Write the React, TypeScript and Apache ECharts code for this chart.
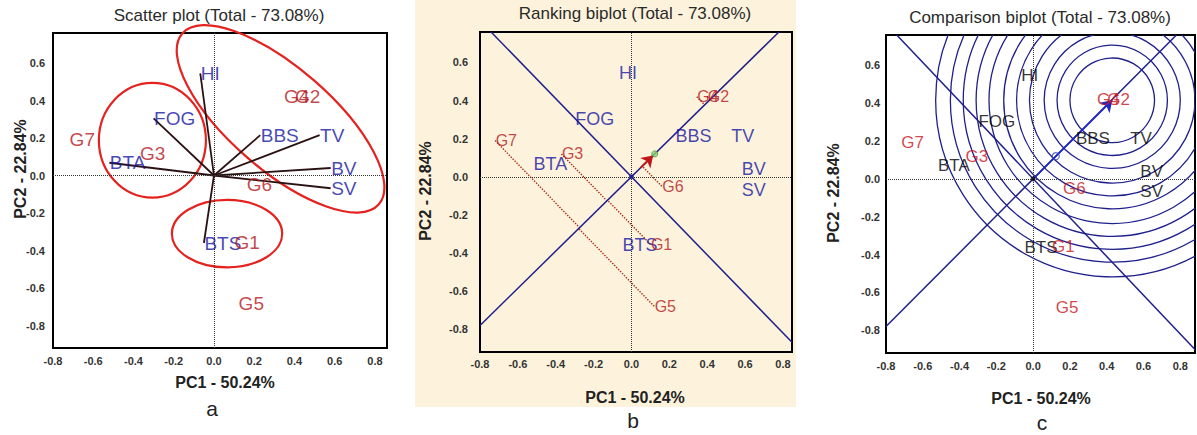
import { useEffect, useRef } from "react";
import * as echarts from "echarts";

// ---------- data ----------
const xTickValues = [-0.8, -0.6, -0.4, -0.2, 0, 0.2, 0.4, 0.6, 0.8];
const yTickValues = [-0.8, -0.6, -0.4, -0.2, 0, 0.2, 0.4, 0.6];

const traitNames = ["HI", "FOG", "BTA", "BBS", "TV", "BV", "SV", "BTS"];
const traitPC1 = [-0.068, -0.3, -0.52, 0.23, 0.525, 0.58, 0.58, -0.05];
const traitPC2 = [0.545, 0.305, 0.068, 0.215, 0.215, 0.04, -0.068, -0.36];

const genotypeNames = ["G1", "G2", "G3", "G4", "G5", "G6", "G7"];
const genotypePC1 = [0.1, 0.4, -0.37, 0.345, 0.12, 0.16, -0.72];
const genotypePC2 = [-0.355, 0.42, 0.12, 0.42, -0.68, -0.05, 0.19];

// average environment (mean trait) point and ideal genotype
const aeaPoint = [0.123, 0.12];
const idealPoint = [0.43, 0.415];
const comparisonRadii = [0.23, 0.3, 0.37, 0.45, 0.52, 0.59, 0.67, 0.74, 0.81, 0.88, 0.96];

// cluster ellipses on the scatter plot
const clusterCx = [0.331, -0.306, 0.065];
const clusterCy = [0.302, 0.188, -0.31];
const clusterRx = [0.647, 0.266, 0.274];
const clusterRy = [0.272, 0.306, 0.18];
const clusterAngle = [-41, 0, 0];

// ---------- style ----------
const FONT = "Liberation Sans, Arial, Helvetica, sans-serif";
const BLUE = "#1616a2";
const RED = "#b3171c";
const NAVY = "#20208c";
const Y_MIN = -0.92;
const Y_MAX = 0.76;
const X_MAX = [0.86, 0.848, 0.88];

function lineThroughOrigin(dx: number, dy: number, xMin: number, xMax: number) {
  const tx = [xMin / dx, xMax / dx].sort((a, b) => a - b);
  const ty = [Y_MIN / dy, Y_MAX / dy].sort((a, b) => a - b);
  const t0 = Math.max(tx[0], ty[0]);
  const t1 = Math.min(tx[1], ty[1]);
  return [
    [t0 * dx, t0 * dy],
    [t1 * dx, t1 * dy],
  ];
}

function labelSeries(idx: number, names: string[], xs: number[], ys: number[], color: string, fontSize: number, extra: any = {}) {
  return {
    type: "scatter",
    xAxisIndex: idx,
    yAxisIndex: idx,
    silent: true,
    symbolSize: 1,
    itemStyle: { color: "rgba(0,0,0,0)" },
    data: names.map((n, i) => ({ name: n, value: [xs[i], ys[i]] })),
    label: {
      show: true,
      position: "right",
      distance: 0,
      formatter: "{b}",
      color,
      fontSize,
      fontFamily: FONT,
    },
    z: 6,
    ...extra,
  };
}

const zeroMark = {
  silent: true,
  symbol: ["none", "none"],
  label: { show: false },
  lineStyle: { type: "dotted", color: "#333", width: 1 },
  data: [{ xAxis: 0 }, { yAxis: 0 }],
};

function buildOption() {
  const grids = [
    { left: 53, top: 33, width: 334, height: 315, bg: "#ffffff" },
    { left: 480, top: 32, width: 312, height: 320, bg: "rgba(0,0,0,0)" },
    { left: 886, top: 35, width: 309, height: 318, bg: "#ffffff" },
  ];
  const labelMargins = [8, 12, 6];
  const xLabelMargins = [7, 6, 7];

  const grid = grids.map((g) => ({
    left: g.left,
    top: g.top,
    width: g.width,
    height: g.height,
    show: true,
    backgroundColor: g.bg,
    borderColor: "#000",
    borderWidth: 2,
  }));

  const xAxis = grids.map((_, i) => ({
    gridIndex: i,
    type: "value",
    min: -0.8,
    max: X_MAX[i],
    axisLine: { show: false },
    axisTick: { show: false },
    splitLine: { show: false },
    axisLabel: {
      customValues: xTickValues,
      formatter: (v: number) => v.toFixed(1),
      fontSize: 11,
      fontWeight: "bold",
      color: "#333",
      fontFamily: FONT,
      margin: xLabelMargins[i],
    },
  }));

  const yAxis = grids.map((_, i) => ({
    gridIndex: i,
    type: "value",
    min: Y_MIN,
    max: Y_MAX,
    axisLine: { show: false },
    axisTick: { show: false },
    splitLine: { show: false },
    axisLabel: {
      customValues: yTickValues,
      formatter: (v: number) => v.toFixed(1),
      fontSize: 11,
      fontWeight: "bold",
      color: "#333",
      fontFamily: FONT,
      margin: labelMargins[i],
    },
  }));

  const series: any[] = [];

  // ---- panel a ----
  series.push({
    type: "custom",
    xAxisIndex: 0,
    yAxisIndex: 0,
    silent: true,
    z: 3,
    data: clusterCx.map((c, i) => [c, clusterCy[i], clusterRx[i], clusterRy[i], clusterAngle[i]]),
    renderItem: (_p: any, api: any) => {
      const c = api.coord([api.value(0), api.value(1)]);
      const s = api.size([api.value(2), api.value(3)]);
      return {
        type: "ellipse",
        x: c[0],
        y: c[1],
        rotation: (api.value(4) * Math.PI) / 180,
        shape: { cx: 0, cy: 0, rx: s[0], ry: s[1] },
        style: { fill: "none", stroke: "#e4221f", lineWidth: 2.2 },
      };
    },
  });
  series.push({
    type: "lines",
    coordinateSystem: "cartesian2d",
    xAxisIndex: 0,
    yAxisIndex: 0,
    silent: true,
    z: 4,
    lineStyle: { color: "#2b1212", width: 1.8, opacity: 1 },
    data: traitNames.map((_, i) => ({ coords: [[0, 0], [traitPC1[i], traitPC2[i]]] })),
  });
  series.push(labelSeries(0, traitNames, traitPC1, traitPC2, BLUE, 19, { markLine: zeroMark }));
  series.push(labelSeries(0, genotypeNames, genotypePC1, genotypePC2, RED, 19));

  // ---- panel b: ranking ----
  const ux = aeaPoint[0] / Math.hypot(aeaPoint[0], aeaPoint[1]);
  const uy = aeaPoint[1] / Math.hypot(aeaPoint[0], aeaPoint[1]);
  series.push({
    type: "lines",
    coordinateSystem: "cartesian2d",
    xAxisIndex: 1,
    yAxisIndex: 1,
    silent: true,
    z: 3,
    lineStyle: { color: "#a82a1a", width: 1.4, type: "dotted", opacity: 1 },
    data: genotypeNames.map((_, i) => {
      const d = genotypePC1[i] * ux + genotypePC2[i] * uy;
      return { coords: [[genotypePC1[i], genotypePC2[i]], [d * ux, d * uy]] };
    }),
  });
  [lineThroughOrigin(aeaPoint[0], aeaPoint[1], -0.8, X_MAX[1]), lineThroughOrigin(-aeaPoint[1], aeaPoint[0], -0.8, X_MAX[1])].forEach((seg) => {
    series.push({
      type: "line",
      xAxisIndex: 1,
      yAxisIndex: 1,
      silent: true,
      z: 4,
      showSymbol: false,
      symbol: "none",
      lineStyle: { color: NAVY, width: 1.5 },
      data: seg,
    });
  });
  series.push({
    type: "lines",
    coordinateSystem: "cartesian2d",
    xAxisIndex: 1,
    yAxisIndex: 1,
    silent: true,
    z: 5,
    symbol: ["none", "arrow"],
    symbolSize: 11,
    lineStyle: { color: "#c0161b", width: 2, opacity: 1 },
    data: [{ coords: [[aeaPoint[0] * 0.4, aeaPoint[1] * 0.4], [aeaPoint[0] * 0.93, aeaPoint[1] * 0.93]] }],
  });
  series.push({
    type: "scatter",
    xAxisIndex: 1,
    yAxisIndex: 1,
    silent: true,
    z: 5,
    data: [{ value: aeaPoint, symbolSize: 6, itemStyle: { color: "#8fd27a", borderColor: "#4a9a3a", borderWidth: 1 } }, { value: [0, 0], symbolSize: 5, itemStyle: { color: NAVY } }],
  });
  series.push(labelSeries(1, traitNames, traitPC1, traitPC2, BLUE, 18, { markLine: zeroMark }));
  series.push(labelSeries(1, genotypeNames, genotypePC1, genotypePC2, RED, 16));

  // ---- panel c: comparison ----
  series.push({
    type: "custom",
    xAxisIndex: 2,
    yAxisIndex: 2,
    silent: true,
    clip: true,
    z: 3,
    data: comparisonRadii.map((r) => [idealPoint[0], idealPoint[1], r]),
    renderItem: (_p: any, api: any) => {
      const c = api.coord([api.value(0), api.value(1)]);
      const r = api.size([api.value(2), 0])[0];
      return {
        type: "circle",
        shape: { cx: c[0], cy: c[1], r },
        style: { fill: "none", stroke: NAVY, lineWidth: 1.3 },
      };
    },
  });
  [lineThroughOrigin(aeaPoint[0], aeaPoint[1], -0.8, X_MAX[2]), lineThroughOrigin(-aeaPoint[1], aeaPoint[0], -0.8, X_MAX[2])].forEach((seg) => {
    series.push({
      type: "line",
      xAxisIndex: 2,
      yAxisIndex: 2,
      silent: true,
      z: 4,
      showSymbol: false,
      symbol: "none",
      lineStyle: { color: NAVY, width: 1.5 },
      data: seg,
    });
  });
  series.push({
    type: "lines",
    coordinateSystem: "cartesian2d",
    xAxisIndex: 2,
    yAxisIndex: 2,
    silent: true,
    z: 5,
    symbol: ["none", "arrow"],
    symbolSize: 11,
    lineStyle: { color: "#1c28c8", width: 1.6, opacity: 1 },
    data: [{ coords: [[0, 0], idealPoint] }],
  });
  series.push({
    type: "scatter",
    xAxisIndex: 2,
    yAxisIndex: 2,
    silent: true,
    z: 5,
    data: [
      { value: aeaPoint, symbolSize: 7, itemStyle: { color: "rgba(0,0,0,0)", borderColor: "#3a48c0", borderWidth: 1.2 } },
      { value: [0, 0], symbolSize: 5, itemStyle: { color: "#111" } },
    ],
  });
  series.push(labelSeries(2, traitNames, traitPC1, traitPC2, "#000", 17, { markLine: zeroMark }));
  series.push(labelSeries(2, genotypeNames, genotypePC1, genotypePC2, "#c8141c", 17));

  const text = (x: number, y: number, t: string, size: number, weight = "normal", rot = 0, fill = "#2a2a2a") => ({
    type: "text",
    x,
    y,
    rotation: rot,
    z: 10,
    style: { text: t, fontSize: size, fontWeight: weight, fontFamily: FONT, fill, align: "center", verticalAlign: "middle" },
  });

  const graphic = [
    { type: "rect", z: -100, silent: true, shape: { x: 415, y: 0, width: 381, height: 407 }, style: { fill: "#fdf3dc" } },
    text(219, 15, "Scatter plot (Total - 73.08%)", 17),
    text(635, 13, "Ranking biplot (Total - 73.08%)", 17),
    text(1040, 17, "Comparison biplot (Total - 73.08%)", 17),
    text(225, 382, "PC1 - 50.24%", 16, "bold", 0, "#222"),
    text(635, 397, "PC1 - 50.24%", 16, "bold", 0, "#222"),
    text(1041, 398, "PC1 - 50.24%", 16, "bold", 0, "#222"),
    text(20, 169, "PC2 - 22.84%", 16, "bold", Math.PI / 2, "#222"),
    text(425, 191, "PC2 - 22.84%", 16, "bold", Math.PI / 2, "#222"),
    text(833, 193, "PC2 - 22.84%", 16, "bold", Math.PI / 2, "#222"),
    text(212, 408, "a", 21, "normal", 0, "#222"),
    text(633, 420, "b", 21, "normal", 0, "#222"),
    text(1042, 422, "c", 21, "normal", 0, "#222"),
  ];

  return {
    animation: false,
    backgroundColor: "#ffffff",
    textStyle: { fontFamily: FONT },
    grid,
    xAxis,
    yAxis,
    series,
    graphic,
  };
}

export default function App() {
  const ref = useRef<HTMLDivElement>(null);
  useEffect(() => {
    if (!ref.current) return;
    const chart = echarts.init(ref.current, undefined, { renderer: "svg" });
    chart.setOption(buildOption() as any);
    return () => chart.dispose();
  }, []);
  return <div ref={ref} style={{ position: "fixed", left: 0, top: 0, width: 1197, height: 435 }} />;
}
